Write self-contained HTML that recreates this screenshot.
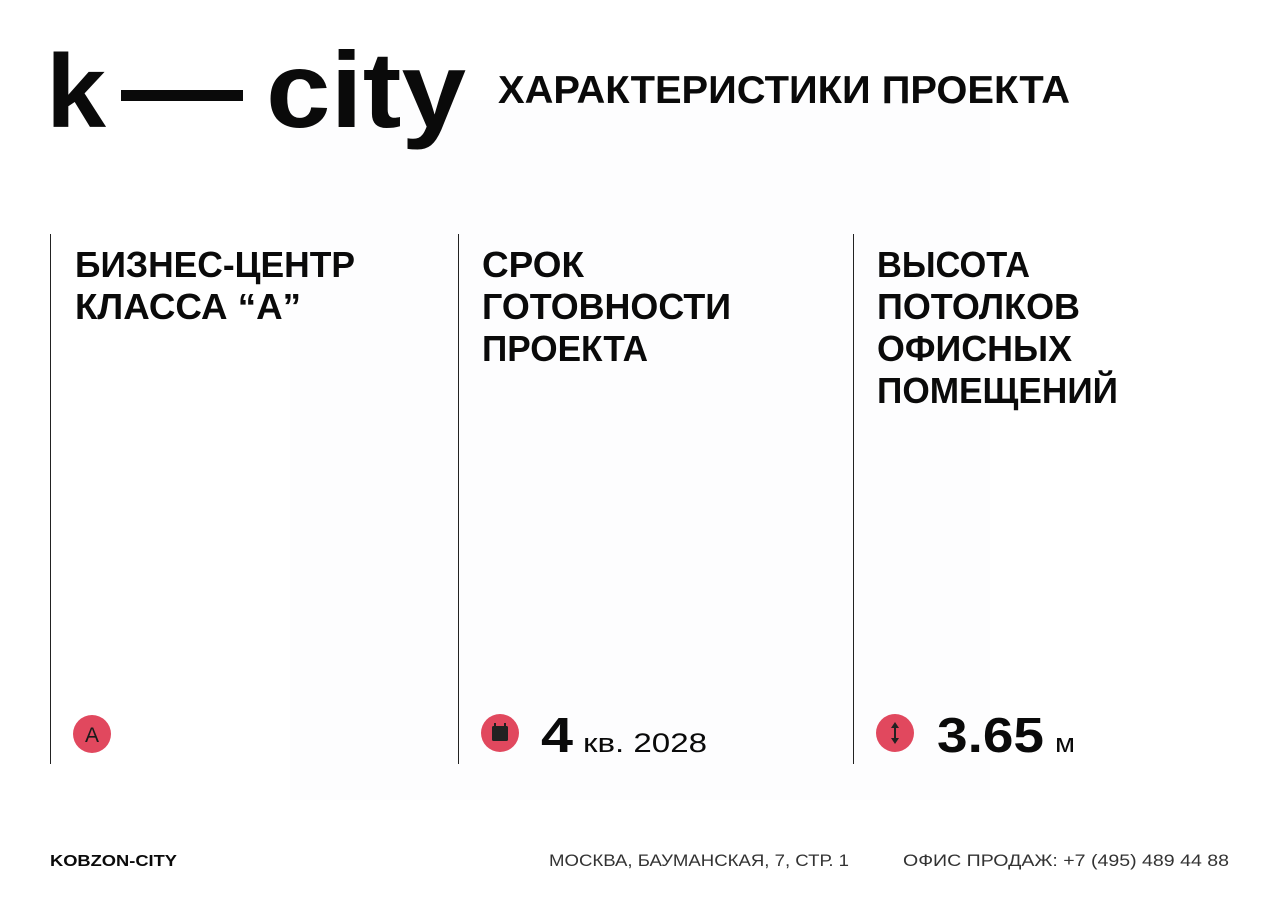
<!DOCTYPE html>
<html><head><meta charset="utf-8"><style>
html,body{margin:0;padding:0;background:#fff;}
svg{display:block}
text{font-family:"Liberation Sans","DejaVu Sans",sans-serif;fill:#0a0a0a}
</style></head><body>
<svg width="1280" height="906" viewBox="0 0 1280 906" xmlns="http://www.w3.org/2000/svg">
<rect width="1280" height="906" fill="#fff"/>
<rect x="290" y="100" width="700" height="700" fill="#fdfdfe"/>
<!-- logo -->
<text x="46" y="127" font-size="104" font-weight="bold" textLength="60" lengthAdjust="spacingAndGlyphs">k</text>
<rect x="121" y="90" width="122" height="11" fill="#0a0a0a"/>
<text x="266" y="127" font-size="108" font-weight="bold" textLength="200" lengthAdjust="spacingAndGlyphs">city</text>
<text x="498" y="103" font-size="39" font-weight="bold" textLength="572" lengthAdjust="spacingAndGlyphs">ХАРАКТЕРИСТИКИ ПРОЕКТА</text>
<!-- columns -->
<rect x="50" y="234" width="1" height="530" fill="#222"/>
<rect x="458" y="234" width="1" height="530" fill="#222"/>
<rect x="853" y="234" width="1" height="530" fill="#222"/>
<g font-size="36" font-weight="bold">
<text x="75" y="277" textLength="280" lengthAdjust="spacingAndGlyphs">БИЗНЕС-ЦЕНТР</text>
<text x="75" y="319" textLength="226" lengthAdjust="spacingAndGlyphs">КЛАССА “А”</text>
<text x="482" y="277" textLength="102" lengthAdjust="spacingAndGlyphs">СРОК</text>
<text x="482" y="319" textLength="249" lengthAdjust="spacingAndGlyphs">ГОТОВНОСТИ</text>
<text x="482" y="361" textLength="166" lengthAdjust="spacingAndGlyphs">ПРОЕКТА</text>
<text x="877" y="277" textLength="153" lengthAdjust="spacingAndGlyphs">ВЫСОТА</text>
<text x="877" y="319" textLength="203" lengthAdjust="spacingAndGlyphs">ПОТОЛКОВ</text>
<text x="877" y="361" textLength="195" lengthAdjust="spacingAndGlyphs">ОФИСНЫХ</text>
<text x="877" y="403" textLength="241" lengthAdjust="spacingAndGlyphs">ПОМЕЩЕНИЙ</text>
</g>
<!-- icons -->
<circle cx="92" cy="734" r="19" fill="#e1485e"/>
<text x="92" y="742" font-size="21" text-anchor="middle" style="fill:#1a1a1a">A</text>
<circle cx="500" cy="733" r="19" fill="#e1485e"/>
<rect x="492" y="726" width="16" height="15" rx="1.5" fill="#222"/>
<rect x="494" y="723" width="2" height="4" fill="#222"/><rect x="504" y="723" width="2" height="4" fill="#222"/>
<circle cx="895" cy="733" r="19" fill="#e1485e"/>
<line x1="895" y1="726" x2="895" y2="740" stroke="#222" stroke-width="2"/>
<path d="M891 728 L895 722 L899 728Z M891 738 L895 744 L899 738Z" fill="#222"/>
<!-- values -->
<text x="541" y="752" font-size="49" font-weight="bold" textLength="32" lengthAdjust="spacingAndGlyphs">4</text>
<text x="583" y="752" font-size="27" textLength="124" lengthAdjust="spacingAndGlyphs">кв. 2028</text>
<text x="937" y="752" font-size="49" font-weight="bold" textLength="107" lengthAdjust="spacingAndGlyphs">3.65</text>
<text x="1055" y="752" font-size="27" textLength="20" lengthAdjust="spacingAndGlyphs">м</text>
<!-- footer -->
<text x="50" y="866" font-size="16" font-weight="bold" textLength="127" lengthAdjust="spacingAndGlyphs">KOBZON-CITY</text>
<text x="549" y="866" font-size="17" textLength="300" lengthAdjust="spacingAndGlyphs" style="fill:#333">МОСКВА, БАУМАНСКАЯ, 7, СТР. 1</text>
<text x="903" y="866" font-size="17" textLength="326" lengthAdjust="spacingAndGlyphs" style="fill:#333">ОФИС ПРОДАЖ: +7 (495) 489 44 88</text>
</svg>
</body></html>
